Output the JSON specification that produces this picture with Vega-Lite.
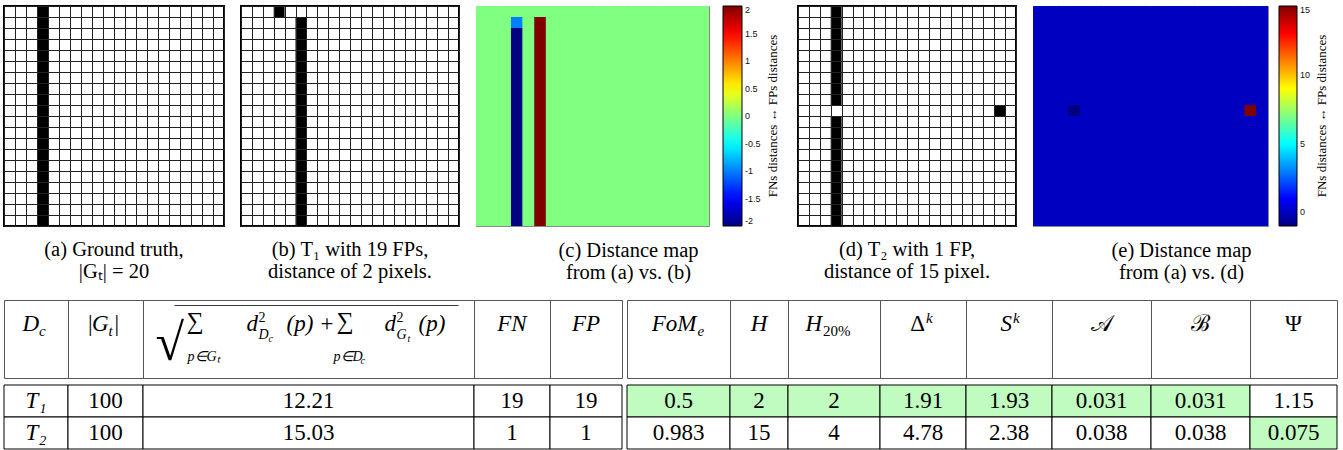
{
"$schema": "https://vega.github.io/schema/vega-lite/v6.json",
"padding": {"left": 3, "top": 5, "right": 0, "bottom": 0},
"background": "white",
"config": {
  "view": {"stroke": null},
  "title": {"orient": "bottom", "font": "Liberation Serif", "fontSize": 20.5, "fontWeight": "normal", "lineHeight": 22, "offset": 14, "anchor": "middle", "color": "black", "frame": "bounds"},
  "text": {"font": "Liberation Serif", "fontSize": 23, "fontStyle": "italic", "baseline": "alphabetic", "dy": -8, "color": "black"}
},
"datasets": {
  "pixA": [{"r":0,"c":3},{"r":1,"c":3},{"r":2,"c":3},{"r":3,"c":3},{"r":4,"c":3},{"r":5,"c":3},{"r":6,"c":3},{"r":7,"c":3},{"r":8,"c":3},{"r":9,"c":3},{"r":10,"c":3},{"r":11,"c":3},{"r":12,"c":3},{"r":13,"c":3},{"r":14,"c":3},{"r":15,"c":3},{"r":16,"c":3},{"r":17,"c":3},{"r":18,"c":3},{"r":19,"c":3}],
  "pixB": [{"r":0,"c":3},{"r":1,"c":5},{"r":2,"c":5},{"r":3,"c":5},{"r":4,"c":5},{"r":5,"c":5},{"r":6,"c":5},{"r":7,"c":5},{"r":8,"c":5},{"r":9,"c":5},{"r":10,"c":5},{"r":11,"c":5},{"r":12,"c":5},{"r":13,"c":5},{"r":14,"c":5},{"r":15,"c":5},{"r":16,"c":5},{"r":17,"c":5},{"r":18,"c":5},{"r":19,"c":5}],
  "pixD": [{"r":0,"c":3},{"r":1,"c":3},{"r":2,"c":3},{"r":3,"c":3},{"r":4,"c":3},{"r":5,"c":3},{"r":6,"c":3},{"r":7,"c":3},{"r":8,"c":3},{"r":9,"c":18},{"r":10,"c":3},{"r":11,"c":3},{"r":12,"c":3},{"r":13,"c":3},{"r":14,"c":3},{"r":15,"c":3},{"r":16,"c":3},{"r":17,"c":3},{"r":18,"c":3},{"r":19,"c":3}],
  "heatC": [
{"r":0,"c":0,"v":0},{"r":0,"c":1,"v":0},{"r":0,"c":2,"v":0},{"r":0,"c":3,"v":0},{"r":0,"c":4,"v":0},{"r":0,"c":5,"v":0},{"r":0,"c":6,"v":0},{"r":0,"c":7,"v":0},{"r":0,"c":8,"v":0},{"r":0,"c":9,"v":0},{"r":0,"c":10,"v":0},{"r":0,"c":11,"v":0},{"r":0,"c":12,"v":0},{"r":0,"c":13,"v":0},{"r":0,"c":14,"v":0},{"r":0,"c":15,"v":0},{"r":0,"c":16,"v":0},{"r":0,"c":17,"v":0},{"r":0,"c":18,"v":0},{"r":0,"c":19,"v":0},
{"r":1,"c":0,"v":0},{"r":1,"c":1,"v":0},{"r":1,"c":2,"v":0},{"r":1,"c":3,"v":-1},{"r":1,"c":4,"v":0},{"r":1,"c":5,"v":2},{"r":1,"c":6,"v":0},{"r":1,"c":7,"v":0},{"r":1,"c":8,"v":0},{"r":1,"c":9,"v":0},{"r":1,"c":10,"v":0},{"r":1,"c":11,"v":0},{"r":1,"c":12,"v":0},{"r":1,"c":13,"v":0},{"r":1,"c":14,"v":0},{"r":1,"c":15,"v":0},{"r":1,"c":16,"v":0},{"r":1,"c":17,"v":0},{"r":1,"c":18,"v":0},{"r":1,"c":19,"v":0},
{"r":2,"c":0,"v":0},{"r":2,"c":1,"v":0},{"r":2,"c":2,"v":0},{"r":2,"c":3,"v":-2},{"r":2,"c":4,"v":0},{"r":2,"c":5,"v":2},{"r":2,"c":6,"v":0},{"r":2,"c":7,"v":0},{"r":2,"c":8,"v":0},{"r":2,"c":9,"v":0},{"r":2,"c":10,"v":0},{"r":2,"c":11,"v":0},{"r":2,"c":12,"v":0},{"r":2,"c":13,"v":0},{"r":2,"c":14,"v":0},{"r":2,"c":15,"v":0},{"r":2,"c":16,"v":0},{"r":2,"c":17,"v":0},{"r":2,"c":18,"v":0},{"r":2,"c":19,"v":0},
{"r":3,"c":0,"v":0},{"r":3,"c":1,"v":0},{"r":3,"c":2,"v":0},{"r":3,"c":3,"v":-2},{"r":3,"c":4,"v":0},{"r":3,"c":5,"v":2},{"r":3,"c":6,"v":0},{"r":3,"c":7,"v":0},{"r":3,"c":8,"v":0},{"r":3,"c":9,"v":0},{"r":3,"c":10,"v":0},{"r":3,"c":11,"v":0},{"r":3,"c":12,"v":0},{"r":3,"c":13,"v":0},{"r":3,"c":14,"v":0},{"r":3,"c":15,"v":0},{"r":3,"c":16,"v":0},{"r":3,"c":17,"v":0},{"r":3,"c":18,"v":0},{"r":3,"c":19,"v":0},
{"r":4,"c":0,"v":0},{"r":4,"c":1,"v":0},{"r":4,"c":2,"v":0},{"r":4,"c":3,"v":-2},{"r":4,"c":4,"v":0},{"r":4,"c":5,"v":2},{"r":4,"c":6,"v":0},{"r":4,"c":7,"v":0},{"r":4,"c":8,"v":0},{"r":4,"c":9,"v":0},{"r":4,"c":10,"v":0},{"r":4,"c":11,"v":0},{"r":4,"c":12,"v":0},{"r":4,"c":13,"v":0},{"r":4,"c":14,"v":0},{"r":4,"c":15,"v":0},{"r":4,"c":16,"v":0},{"r":4,"c":17,"v":0},{"r":4,"c":18,"v":0},{"r":4,"c":19,"v":0},
{"r":5,"c":0,"v":0},{"r":5,"c":1,"v":0},{"r":5,"c":2,"v":0},{"r":5,"c":3,"v":-2},{"r":5,"c":4,"v":0},{"r":5,"c":5,"v":2},{"r":5,"c":6,"v":0},{"r":5,"c":7,"v":0},{"r":5,"c":8,"v":0},{"r":5,"c":9,"v":0},{"r":5,"c":10,"v":0},{"r":5,"c":11,"v":0},{"r":5,"c":12,"v":0},{"r":5,"c":13,"v":0},{"r":5,"c":14,"v":0},{"r":5,"c":15,"v":0},{"r":5,"c":16,"v":0},{"r":5,"c":17,"v":0},{"r":5,"c":18,"v":0},{"r":5,"c":19,"v":0},
{"r":6,"c":0,"v":0},{"r":6,"c":1,"v":0},{"r":6,"c":2,"v":0},{"r":6,"c":3,"v":-2},{"r":6,"c":4,"v":0},{"r":6,"c":5,"v":2},{"r":6,"c":6,"v":0},{"r":6,"c":7,"v":0},{"r":6,"c":8,"v":0},{"r":6,"c":9,"v":0},{"r":6,"c":10,"v":0},{"r":6,"c":11,"v":0},{"r":6,"c":12,"v":0},{"r":6,"c":13,"v":0},{"r":6,"c":14,"v":0},{"r":6,"c":15,"v":0},{"r":6,"c":16,"v":0},{"r":6,"c":17,"v":0},{"r":6,"c":18,"v":0},{"r":6,"c":19,"v":0},
{"r":7,"c":0,"v":0},{"r":7,"c":1,"v":0},{"r":7,"c":2,"v":0},{"r":7,"c":3,"v":-2},{"r":7,"c":4,"v":0},{"r":7,"c":5,"v":2},{"r":7,"c":6,"v":0},{"r":7,"c":7,"v":0},{"r":7,"c":8,"v":0},{"r":7,"c":9,"v":0},{"r":7,"c":10,"v":0},{"r":7,"c":11,"v":0},{"r":7,"c":12,"v":0},{"r":7,"c":13,"v":0},{"r":7,"c":14,"v":0},{"r":7,"c":15,"v":0},{"r":7,"c":16,"v":0},{"r":7,"c":17,"v":0},{"r":7,"c":18,"v":0},{"r":7,"c":19,"v":0},
{"r":8,"c":0,"v":0},{"r":8,"c":1,"v":0},{"r":8,"c":2,"v":0},{"r":8,"c":3,"v":-2},{"r":8,"c":4,"v":0},{"r":8,"c":5,"v":2},{"r":8,"c":6,"v":0},{"r":8,"c":7,"v":0},{"r":8,"c":8,"v":0},{"r":8,"c":9,"v":0},{"r":8,"c":10,"v":0},{"r":8,"c":11,"v":0},{"r":8,"c":12,"v":0},{"r":8,"c":13,"v":0},{"r":8,"c":14,"v":0},{"r":8,"c":15,"v":0},{"r":8,"c":16,"v":0},{"r":8,"c":17,"v":0},{"r":8,"c":18,"v":0},{"r":8,"c":19,"v":0},
{"r":9,"c":0,"v":0},{"r":9,"c":1,"v":0},{"r":9,"c":2,"v":0},{"r":9,"c":3,"v":-2},{"r":9,"c":4,"v":0},{"r":9,"c":5,"v":2},{"r":9,"c":6,"v":0},{"r":9,"c":7,"v":0},{"r":9,"c":8,"v":0},{"r":9,"c":9,"v":0},{"r":9,"c":10,"v":0},{"r":9,"c":11,"v":0},{"r":9,"c":12,"v":0},{"r":9,"c":13,"v":0},{"r":9,"c":14,"v":0},{"r":9,"c":15,"v":0},{"r":9,"c":16,"v":0},{"r":9,"c":17,"v":0},{"r":9,"c":18,"v":0},{"r":9,"c":19,"v":0},
{"r":10,"c":0,"v":0},{"r":10,"c":1,"v":0},{"r":10,"c":2,"v":0},{"r":10,"c":3,"v":-2},{"r":10,"c":4,"v":0},{"r":10,"c":5,"v":2},{"r":10,"c":6,"v":0},{"r":10,"c":7,"v":0},{"r":10,"c":8,"v":0},{"r":10,"c":9,"v":0},{"r":10,"c":10,"v":0},{"r":10,"c":11,"v":0},{"r":10,"c":12,"v":0},{"r":10,"c":13,"v":0},{"r":10,"c":14,"v":0},{"r":10,"c":15,"v":0},{"r":10,"c":16,"v":0},{"r":10,"c":17,"v":0},{"r":10,"c":18,"v":0},{"r":10,"c":19,"v":0},
{"r":11,"c":0,"v":0},{"r":11,"c":1,"v":0},{"r":11,"c":2,"v":0},{"r":11,"c":3,"v":-2},{"r":11,"c":4,"v":0},{"r":11,"c":5,"v":2},{"r":11,"c":6,"v":0},{"r":11,"c":7,"v":0},{"r":11,"c":8,"v":0},{"r":11,"c":9,"v":0},{"r":11,"c":10,"v":0},{"r":11,"c":11,"v":0},{"r":11,"c":12,"v":0},{"r":11,"c":13,"v":0},{"r":11,"c":14,"v":0},{"r":11,"c":15,"v":0},{"r":11,"c":16,"v":0},{"r":11,"c":17,"v":0},{"r":11,"c":18,"v":0},{"r":11,"c":19,"v":0},
{"r":12,"c":0,"v":0},{"r":12,"c":1,"v":0},{"r":12,"c":2,"v":0},{"r":12,"c":3,"v":-2},{"r":12,"c":4,"v":0},{"r":12,"c":5,"v":2},{"r":12,"c":6,"v":0},{"r":12,"c":7,"v":0},{"r":12,"c":8,"v":0},{"r":12,"c":9,"v":0},{"r":12,"c":10,"v":0},{"r":12,"c":11,"v":0},{"r":12,"c":12,"v":0},{"r":12,"c":13,"v":0},{"r":12,"c":14,"v":0},{"r":12,"c":15,"v":0},{"r":12,"c":16,"v":0},{"r":12,"c":17,"v":0},{"r":12,"c":18,"v":0},{"r":12,"c":19,"v":0},
{"r":13,"c":0,"v":0},{"r":13,"c":1,"v":0},{"r":13,"c":2,"v":0},{"r":13,"c":3,"v":-2},{"r":13,"c":4,"v":0},{"r":13,"c":5,"v":2},{"r":13,"c":6,"v":0},{"r":13,"c":7,"v":0},{"r":13,"c":8,"v":0},{"r":13,"c":9,"v":0},{"r":13,"c":10,"v":0},{"r":13,"c":11,"v":0},{"r":13,"c":12,"v":0},{"r":13,"c":13,"v":0},{"r":13,"c":14,"v":0},{"r":13,"c":15,"v":0},{"r":13,"c":16,"v":0},{"r":13,"c":17,"v":0},{"r":13,"c":18,"v":0},{"r":13,"c":19,"v":0},
{"r":14,"c":0,"v":0},{"r":14,"c":1,"v":0},{"r":14,"c":2,"v":0},{"r":14,"c":3,"v":-2},{"r":14,"c":4,"v":0},{"r":14,"c":5,"v":2},{"r":14,"c":6,"v":0},{"r":14,"c":7,"v":0},{"r":14,"c":8,"v":0},{"r":14,"c":9,"v":0},{"r":14,"c":10,"v":0},{"r":14,"c":11,"v":0},{"r":14,"c":12,"v":0},{"r":14,"c":13,"v":0},{"r":14,"c":14,"v":0},{"r":14,"c":15,"v":0},{"r":14,"c":16,"v":0},{"r":14,"c":17,"v":0},{"r":14,"c":18,"v":0},{"r":14,"c":19,"v":0},
{"r":15,"c":0,"v":0},{"r":15,"c":1,"v":0},{"r":15,"c":2,"v":0},{"r":15,"c":3,"v":-2},{"r":15,"c":4,"v":0},{"r":15,"c":5,"v":2},{"r":15,"c":6,"v":0},{"r":15,"c":7,"v":0},{"r":15,"c":8,"v":0},{"r":15,"c":9,"v":0},{"r":15,"c":10,"v":0},{"r":15,"c":11,"v":0},{"r":15,"c":12,"v":0},{"r":15,"c":13,"v":0},{"r":15,"c":14,"v":0},{"r":15,"c":15,"v":0},{"r":15,"c":16,"v":0},{"r":15,"c":17,"v":0},{"r":15,"c":18,"v":0},{"r":15,"c":19,"v":0},
{"r":16,"c":0,"v":0},{"r":16,"c":1,"v":0},{"r":16,"c":2,"v":0},{"r":16,"c":3,"v":-2},{"r":16,"c":4,"v":0},{"r":16,"c":5,"v":2},{"r":16,"c":6,"v":0},{"r":16,"c":7,"v":0},{"r":16,"c":8,"v":0},{"r":16,"c":9,"v":0},{"r":16,"c":10,"v":0},{"r":16,"c":11,"v":0},{"r":16,"c":12,"v":0},{"r":16,"c":13,"v":0},{"r":16,"c":14,"v":0},{"r":16,"c":15,"v":0},{"r":16,"c":16,"v":0},{"r":16,"c":17,"v":0},{"r":16,"c":18,"v":0},{"r":16,"c":19,"v":0},
{"r":17,"c":0,"v":0},{"r":17,"c":1,"v":0},{"r":17,"c":2,"v":0},{"r":17,"c":3,"v":-2},{"r":17,"c":4,"v":0},{"r":17,"c":5,"v":2},{"r":17,"c":6,"v":0},{"r":17,"c":7,"v":0},{"r":17,"c":8,"v":0},{"r":17,"c":9,"v":0},{"r":17,"c":10,"v":0},{"r":17,"c":11,"v":0},{"r":17,"c":12,"v":0},{"r":17,"c":13,"v":0},{"r":17,"c":14,"v":0},{"r":17,"c":15,"v":0},{"r":17,"c":16,"v":0},{"r":17,"c":17,"v":0},{"r":17,"c":18,"v":0},{"r":17,"c":19,"v":0},
{"r":18,"c":0,"v":0},{"r":18,"c":1,"v":0},{"r":18,"c":2,"v":0},{"r":18,"c":3,"v":-2},{"r":18,"c":4,"v":0},{"r":18,"c":5,"v":2},{"r":18,"c":6,"v":0},{"r":18,"c":7,"v":0},{"r":18,"c":8,"v":0},{"r":18,"c":9,"v":0},{"r":18,"c":10,"v":0},{"r":18,"c":11,"v":0},{"r":18,"c":12,"v":0},{"r":18,"c":13,"v":0},{"r":18,"c":14,"v":0},{"r":18,"c":15,"v":0},{"r":18,"c":16,"v":0},{"r":18,"c":17,"v":0},{"r":18,"c":18,"v":0},{"r":18,"c":19,"v":0},
{"r":19,"c":0,"v":0},{"r":19,"c":1,"v":0},{"r":19,"c":2,"v":0},{"r":19,"c":3,"v":-2},{"r":19,"c":4,"v":0},{"r":19,"c":5,"v":2},{"r":19,"c":6,"v":0},{"r":19,"c":7,"v":0},{"r":19,"c":8,"v":0},{"r":19,"c":9,"v":0},{"r":19,"c":10,"v":0},{"r":19,"c":11,"v":0},{"r":19,"c":12,"v":0},{"r":19,"c":13,"v":0},{"r":19,"c":14,"v":0},{"r":19,"c":15,"v":0},{"r":19,"c":16,"v":0},{"r":19,"c":17,"v":0},{"r":19,"c":18,"v":0},{"r":19,"c":19,"v":0}
  ],
  "heatE": [
{"r":0,"c":0,"v":0},{"r":0,"c":1,"v":0},{"r":0,"c":2,"v":0},{"r":0,"c":3,"v":0},{"r":0,"c":4,"v":0},{"r":0,"c":5,"v":0},{"r":0,"c":6,"v":0},{"r":0,"c":7,"v":0},{"r":0,"c":8,"v":0},{"r":0,"c":9,"v":0},{"r":0,"c":10,"v":0},{"r":0,"c":11,"v":0},{"r":0,"c":12,"v":0},{"r":0,"c":13,"v":0},{"r":0,"c":14,"v":0},{"r":0,"c":15,"v":0},{"r":0,"c":16,"v":0},{"r":0,"c":17,"v":0},{"r":0,"c":18,"v":0},{"r":0,"c":19,"v":0},
{"r":1,"c":0,"v":0},{"r":1,"c":1,"v":0},{"r":1,"c":2,"v":0},{"r":1,"c":3,"v":0},{"r":1,"c":4,"v":0},{"r":1,"c":5,"v":0},{"r":1,"c":6,"v":0},{"r":1,"c":7,"v":0},{"r":1,"c":8,"v":0},{"r":1,"c":9,"v":0},{"r":1,"c":10,"v":0},{"r":1,"c":11,"v":0},{"r":1,"c":12,"v":0},{"r":1,"c":13,"v":0},{"r":1,"c":14,"v":0},{"r":1,"c":15,"v":0},{"r":1,"c":16,"v":0},{"r":1,"c":17,"v":0},{"r":1,"c":18,"v":0},{"r":1,"c":19,"v":0},
{"r":2,"c":0,"v":0},{"r":2,"c":1,"v":0},{"r":2,"c":2,"v":0},{"r":2,"c":3,"v":0},{"r":2,"c":4,"v":0},{"r":2,"c":5,"v":0},{"r":2,"c":6,"v":0},{"r":2,"c":7,"v":0},{"r":2,"c":8,"v":0},{"r":2,"c":9,"v":0},{"r":2,"c":10,"v":0},{"r":2,"c":11,"v":0},{"r":2,"c":12,"v":0},{"r":2,"c":13,"v":0},{"r":2,"c":14,"v":0},{"r":2,"c":15,"v":0},{"r":2,"c":16,"v":0},{"r":2,"c":17,"v":0},{"r":2,"c":18,"v":0},{"r":2,"c":19,"v":0},
{"r":3,"c":0,"v":0},{"r":3,"c":1,"v":0},{"r":3,"c":2,"v":0},{"r":3,"c":3,"v":0},{"r":3,"c":4,"v":0},{"r":3,"c":5,"v":0},{"r":3,"c":6,"v":0},{"r":3,"c":7,"v":0},{"r":3,"c":8,"v":0},{"r":3,"c":9,"v":0},{"r":3,"c":10,"v":0},{"r":3,"c":11,"v":0},{"r":3,"c":12,"v":0},{"r":3,"c":13,"v":0},{"r":3,"c":14,"v":0},{"r":3,"c":15,"v":0},{"r":3,"c":16,"v":0},{"r":3,"c":17,"v":0},{"r":3,"c":18,"v":0},{"r":3,"c":19,"v":0},
{"r":4,"c":0,"v":0},{"r":4,"c":1,"v":0},{"r":4,"c":2,"v":0},{"r":4,"c":3,"v":0},{"r":4,"c":4,"v":0},{"r":4,"c":5,"v":0},{"r":4,"c":6,"v":0},{"r":4,"c":7,"v":0},{"r":4,"c":8,"v":0},{"r":4,"c":9,"v":0},{"r":4,"c":10,"v":0},{"r":4,"c":11,"v":0},{"r":4,"c":12,"v":0},{"r":4,"c":13,"v":0},{"r":4,"c":14,"v":0},{"r":4,"c":15,"v":0},{"r":4,"c":16,"v":0},{"r":4,"c":17,"v":0},{"r":4,"c":18,"v":0},{"r":4,"c":19,"v":0},
{"r":5,"c":0,"v":0},{"r":5,"c":1,"v":0},{"r":5,"c":2,"v":0},{"r":5,"c":3,"v":0},{"r":5,"c":4,"v":0},{"r":5,"c":5,"v":0},{"r":5,"c":6,"v":0},{"r":5,"c":7,"v":0},{"r":5,"c":8,"v":0},{"r":5,"c":9,"v":0},{"r":5,"c":10,"v":0},{"r":5,"c":11,"v":0},{"r":5,"c":12,"v":0},{"r":5,"c":13,"v":0},{"r":5,"c":14,"v":0},{"r":5,"c":15,"v":0},{"r":5,"c":16,"v":0},{"r":5,"c":17,"v":0},{"r":5,"c":18,"v":0},{"r":5,"c":19,"v":0},
{"r":6,"c":0,"v":0},{"r":6,"c":1,"v":0},{"r":6,"c":2,"v":0},{"r":6,"c":3,"v":0},{"r":6,"c":4,"v":0},{"r":6,"c":5,"v":0},{"r":6,"c":6,"v":0},{"r":6,"c":7,"v":0},{"r":6,"c":8,"v":0},{"r":6,"c":9,"v":0},{"r":6,"c":10,"v":0},{"r":6,"c":11,"v":0},{"r":6,"c":12,"v":0},{"r":6,"c":13,"v":0},{"r":6,"c":14,"v":0},{"r":6,"c":15,"v":0},{"r":6,"c":16,"v":0},{"r":6,"c":17,"v":0},{"r":6,"c":18,"v":0},{"r":6,"c":19,"v":0},
{"r":7,"c":0,"v":0},{"r":7,"c":1,"v":0},{"r":7,"c":2,"v":0},{"r":7,"c":3,"v":0},{"r":7,"c":4,"v":0},{"r":7,"c":5,"v":0},{"r":7,"c":6,"v":0},{"r":7,"c":7,"v":0},{"r":7,"c":8,"v":0},{"r":7,"c":9,"v":0},{"r":7,"c":10,"v":0},{"r":7,"c":11,"v":0},{"r":7,"c":12,"v":0},{"r":7,"c":13,"v":0},{"r":7,"c":14,"v":0},{"r":7,"c":15,"v":0},{"r":7,"c":16,"v":0},{"r":7,"c":17,"v":0},{"r":7,"c":18,"v":0},{"r":7,"c":19,"v":0},
{"r":8,"c":0,"v":0},{"r":8,"c":1,"v":0},{"r":8,"c":2,"v":0},{"r":8,"c":3,"v":0},{"r":8,"c":4,"v":0},{"r":8,"c":5,"v":0},{"r":8,"c":6,"v":0},{"r":8,"c":7,"v":0},{"r":8,"c":8,"v":0},{"r":8,"c":9,"v":0},{"r":8,"c":10,"v":0},{"r":8,"c":11,"v":0},{"r":8,"c":12,"v":0},{"r":8,"c":13,"v":0},{"r":8,"c":14,"v":0},{"r":8,"c":15,"v":0},{"r":8,"c":16,"v":0},{"r":8,"c":17,"v":0},{"r":8,"c":18,"v":0},{"r":8,"c":19,"v":0},
{"r":9,"c":0,"v":0},{"r":9,"c":1,"v":0},{"r":9,"c":2,"v":0},{"r":9,"c":3,"v":-1},{"r":9,"c":4,"v":0},{"r":9,"c":5,"v":0},{"r":9,"c":6,"v":0},{"r":9,"c":7,"v":0},{"r":9,"c":8,"v":0},{"r":9,"c":9,"v":0},{"r":9,"c":10,"v":0},{"r":9,"c":11,"v":0},{"r":9,"c":12,"v":0},{"r":9,"c":13,"v":0},{"r":9,"c":14,"v":0},{"r":9,"c":15,"v":0},{"r":9,"c":16,"v":0},{"r":9,"c":17,"v":0},{"r":9,"c":18,"v":15},{"r":9,"c":19,"v":0},
{"r":10,"c":0,"v":0},{"r":10,"c":1,"v":0},{"r":10,"c":2,"v":0},{"r":10,"c":3,"v":0},{"r":10,"c":4,"v":0},{"r":10,"c":5,"v":0},{"r":10,"c":6,"v":0},{"r":10,"c":7,"v":0},{"r":10,"c":8,"v":0},{"r":10,"c":9,"v":0},{"r":10,"c":10,"v":0},{"r":10,"c":11,"v":0},{"r":10,"c":12,"v":0},{"r":10,"c":13,"v":0},{"r":10,"c":14,"v":0},{"r":10,"c":15,"v":0},{"r":10,"c":16,"v":0},{"r":10,"c":17,"v":0},{"r":10,"c":18,"v":0},{"r":10,"c":19,"v":0},
{"r":11,"c":0,"v":0},{"r":11,"c":1,"v":0},{"r":11,"c":2,"v":0},{"r":11,"c":3,"v":0},{"r":11,"c":4,"v":0},{"r":11,"c":5,"v":0},{"r":11,"c":6,"v":0},{"r":11,"c":7,"v":0},{"r":11,"c":8,"v":0},{"r":11,"c":9,"v":0},{"r":11,"c":10,"v":0},{"r":11,"c":11,"v":0},{"r":11,"c":12,"v":0},{"r":11,"c":13,"v":0},{"r":11,"c":14,"v":0},{"r":11,"c":15,"v":0},{"r":11,"c":16,"v":0},{"r":11,"c":17,"v":0},{"r":11,"c":18,"v":0},{"r":11,"c":19,"v":0},
{"r":12,"c":0,"v":0},{"r":12,"c":1,"v":0},{"r":12,"c":2,"v":0},{"r":12,"c":3,"v":0},{"r":12,"c":4,"v":0},{"r":12,"c":5,"v":0},{"r":12,"c":6,"v":0},{"r":12,"c":7,"v":0},{"r":12,"c":8,"v":0},{"r":12,"c":9,"v":0},{"r":12,"c":10,"v":0},{"r":12,"c":11,"v":0},{"r":12,"c":12,"v":0},{"r":12,"c":13,"v":0},{"r":12,"c":14,"v":0},{"r":12,"c":15,"v":0},{"r":12,"c":16,"v":0},{"r":12,"c":17,"v":0},{"r":12,"c":18,"v":0},{"r":12,"c":19,"v":0},
{"r":13,"c":0,"v":0},{"r":13,"c":1,"v":0},{"r":13,"c":2,"v":0},{"r":13,"c":3,"v":0},{"r":13,"c":4,"v":0},{"r":13,"c":5,"v":0},{"r":13,"c":6,"v":0},{"r":13,"c":7,"v":0},{"r":13,"c":8,"v":0},{"r":13,"c":9,"v":0},{"r":13,"c":10,"v":0},{"r":13,"c":11,"v":0},{"r":13,"c":12,"v":0},{"r":13,"c":13,"v":0},{"r":13,"c":14,"v":0},{"r":13,"c":15,"v":0},{"r":13,"c":16,"v":0},{"r":13,"c":17,"v":0},{"r":13,"c":18,"v":0},{"r":13,"c":19,"v":0},
{"r":14,"c":0,"v":0},{"r":14,"c":1,"v":0},{"r":14,"c":2,"v":0},{"r":14,"c":3,"v":0},{"r":14,"c":4,"v":0},{"r":14,"c":5,"v":0},{"r":14,"c":6,"v":0},{"r":14,"c":7,"v":0},{"r":14,"c":8,"v":0},{"r":14,"c":9,"v":0},{"r":14,"c":10,"v":0},{"r":14,"c":11,"v":0},{"r":14,"c":12,"v":0},{"r":14,"c":13,"v":0},{"r":14,"c":14,"v":0},{"r":14,"c":15,"v":0},{"r":14,"c":16,"v":0},{"r":14,"c":17,"v":0},{"r":14,"c":18,"v":0},{"r":14,"c":19,"v":0},
{"r":15,"c":0,"v":0},{"r":15,"c":1,"v":0},{"r":15,"c":2,"v":0},{"r":15,"c":3,"v":0},{"r":15,"c":4,"v":0},{"r":15,"c":5,"v":0},{"r":15,"c":6,"v":0},{"r":15,"c":7,"v":0},{"r":15,"c":8,"v":0},{"r":15,"c":9,"v":0},{"r":15,"c":10,"v":0},{"r":15,"c":11,"v":0},{"r":15,"c":12,"v":0},{"r":15,"c":13,"v":0},{"r":15,"c":14,"v":0},{"r":15,"c":15,"v":0},{"r":15,"c":16,"v":0},{"r":15,"c":17,"v":0},{"r":15,"c":18,"v":0},{"r":15,"c":19,"v":0},
{"r":16,"c":0,"v":0},{"r":16,"c":1,"v":0},{"r":16,"c":2,"v":0},{"r":16,"c":3,"v":0},{"r":16,"c":4,"v":0},{"r":16,"c":5,"v":0},{"r":16,"c":6,"v":0},{"r":16,"c":7,"v":0},{"r":16,"c":8,"v":0},{"r":16,"c":9,"v":0},{"r":16,"c":10,"v":0},{"r":16,"c":11,"v":0},{"r":16,"c":12,"v":0},{"r":16,"c":13,"v":0},{"r":16,"c":14,"v":0},{"r":16,"c":15,"v":0},{"r":16,"c":16,"v":0},{"r":16,"c":17,"v":0},{"r":16,"c":18,"v":0},{"r":16,"c":19,"v":0},
{"r":17,"c":0,"v":0},{"r":17,"c":1,"v":0},{"r":17,"c":2,"v":0},{"r":17,"c":3,"v":0},{"r":17,"c":4,"v":0},{"r":17,"c":5,"v":0},{"r":17,"c":6,"v":0},{"r":17,"c":7,"v":0},{"r":17,"c":8,"v":0},{"r":17,"c":9,"v":0},{"r":17,"c":10,"v":0},{"r":17,"c":11,"v":0},{"r":17,"c":12,"v":0},{"r":17,"c":13,"v":0},{"r":17,"c":14,"v":0},{"r":17,"c":15,"v":0},{"r":17,"c":16,"v":0},{"r":17,"c":17,"v":0},{"r":17,"c":18,"v":0},{"r":17,"c":19,"v":0},
{"r":18,"c":0,"v":0},{"r":18,"c":1,"v":0},{"r":18,"c":2,"v":0},{"r":18,"c":3,"v":0},{"r":18,"c":4,"v":0},{"r":18,"c":5,"v":0},{"r":18,"c":6,"v":0},{"r":18,"c":7,"v":0},{"r":18,"c":8,"v":0},{"r":18,"c":9,"v":0},{"r":18,"c":10,"v":0},{"r":18,"c":11,"v":0},{"r":18,"c":12,"v":0},{"r":18,"c":13,"v":0},{"r":18,"c":14,"v":0},{"r":18,"c":15,"v":0},{"r":18,"c":16,"v":0},{"r":18,"c":17,"v":0},{"r":18,"c":18,"v":0},{"r":18,"c":19,"v":0},
{"r":19,"c":0,"v":0},{"r":19,"c":1,"v":0},{"r":19,"c":2,"v":0},{"r":19,"c":3,"v":0},{"r":19,"c":4,"v":0},{"r":19,"c":5,"v":0},{"r":19,"c":6,"v":0},{"r":19,"c":7,"v":0},{"r":19,"c":8,"v":0},{"r":19,"c":9,"v":0},{"r":19,"c":10,"v":0},{"r":19,"c":11,"v":0},{"r":19,"c":12,"v":0},{"r":19,"c":13,"v":0},{"r":19,"c":14,"v":0},{"r":19,"c":15,"v":0},{"r":19,"c":16,"v":0},{"r":19,"c":17,"v":0},{"r":19,"c":18,"v":0},{"r":19,"c":19,"v":0}
  ],
  "tbl": [
    {"row":"T1","metric":"Dc","value":"T₁","best":"no"},
    {"row":"T1","metric":"Gt","value":"100","best":"no"},
    {"row":"T1","metric":"dist","value":"12.21","best":"no"},
    {"row":"T1","metric":"FN","value":"19","best":"no"},
    {"row":"T1","metric":"FP","value":"19","best":"no"},
    {"row":"T1","metric":"FoMe","value":"0.5","best":"yes"},
    {"row":"T1","metric":"H","value":"2","best":"yes"},
    {"row":"T1","metric":"H20","value":"2","best":"yes"},
    {"row":"T1","metric":"Dk","value":"1.91","best":"yes"},
    {"row":"T1","metric":"Sk","value":"1.93","best":"yes"},
    {"row":"T1","metric":"A","value":"0.031","best":"yes"},
    {"row":"T1","metric":"B","value":"0.031","best":"yes"},
    {"row":"T1","metric":"Psi","value":"1.15","best":"no"},
    {"row":"T2","metric":"Dc","value":"T₂","best":"no"},
    {"row":"T2","metric":"Gt","value":"100","best":"no"},
    {"row":"T2","metric":"dist","value":"15.03","best":"no"},
    {"row":"T2","metric":"FN","value":"1","best":"no"},
    {"row":"T2","metric":"FP","value":"1","best":"no"},
    {"row":"T2","metric":"FoMe","value":"0.983","best":"no"},
    {"row":"T2","metric":"H","value":"15","best":"no"},
    {"row":"T2","metric":"H20","value":"4","best":"no"},
    {"row":"T2","metric":"Dk","value":"4.78","best":"no"},
    {"row":"T2","metric":"Sk","value":"2.38","best":"no"},
    {"row":"T2","metric":"A","value":"0.038","best":"no"},
    {"row":"T2","metric":"B","value":"0.038","best":"no"},
    {"row":"T2","metric":"Psi","value":"0.075","best":"yes"}
  ]
},
"spacing": 8,
"vconcat": [
  {
    "spacing": 15,
    "resolve": {"scale": {"x": "independent", "y": "independent", "color": "independent"}, "legend": {"color": "independent"}},
    "hconcat": [
      {
        "width": 220, "height": 220,
        "data": {"name": "pixA"},
        "view": {"stroke": "black", "strokeWidth": 2},
        "title": {"text": ["(a) Ground truth,", "|Gₜ| = 20"], "font": "Liberation Serif"},
        "mark": {"type": "rect", "color": "black"},
        "encoding": {
          "x": {"field": "c", "type": "ordinal", "scale": {"type": "band", "domain": [0,1,2,3,4,5,6,7,8,9,10,11,12,13,14,15,16,17,18,19], "paddingInner": 0, "paddingOuter": 0}, "axis": {"grid": true, "tickBand": "extent", "labels": false, "ticks": false, "domain": false, "title": null, "gridColor": "#222", "gridWidth": 1, "gridOpacity": 1}},
          "y": {"field": "r", "type": "ordinal", "scale": {"type": "band", "domain": [0,1,2,3,4,5,6,7,8,9,10,11,12,13,14,15,16,17,18,19], "paddingInner": 0, "paddingOuter": 0}, "axis": {"grid": true, "tickBand": "extent", "labels": false, "ticks": false, "domain": false, "title": null, "gridColor": "#222", "gridWidth": 1, "gridOpacity": 1}}
        }
      },
      {
        "width": 218, "height": 220,
        "data": {"name": "pixB"},
        "view": {"stroke": "black", "strokeWidth": 2},
        "title": {"text": ["(b) T₁ with 19 FPs,", "distance of 2 pixels."], "font": "Liberation Serif"},
        "mark": {"type": "rect", "color": "black"},
        "encoding": {
          "x": {"field": "c", "type": "ordinal", "scale": {"type": "band", "domain": [0,1,2,3,4,5,6,7,8,9,10,11,12,13,14,15,16,17,18,19], "paddingInner": 0, "paddingOuter": 0}, "axis": {"grid": true, "tickBand": "extent", "labels": false, "ticks": false, "domain": false, "title": null, "gridColor": "#222", "gridWidth": 1, "gridOpacity": 1}},
          "y": {"field": "r", "type": "ordinal", "scale": {"type": "band", "domain": [0,1,2,3,4,5,6,7,8,9,10,11,12,13,14,15,16,17,18,19], "paddingInner": 0, "paddingOuter": 0}, "axis": {"grid": true, "tickBand": "extent", "labels": false, "ticks": false, "domain": false, "title": null, "gridColor": "#222", "gridWidth": 1, "gridOpacity": 1}}
        }
      },
      {
        "width": 233, "height": 220,
        "data": {"name": "heatC"},
        "view": {"stroke": "#8a8a8a", "strokeWidth": 1, "fill": "#80ff80"},
        "title": {"text": ["(c) Distance map", "from (a) vs. (b)"], "font": "Liberation Serif"},
        "mark": {"type": "rect"},
        "encoding": {
          "x": {"field": "c", "type": "ordinal", "scale": {"type": "band", "domain": [0,1,2,3,4,5,6,7,8,9,10,11,12,13,14,15,16,17,18,19], "paddingInner": 0, "paddingOuter": 0}, "axis": null},
          "y": {"field": "r", "type": "ordinal", "scale": {"type": "band", "domain": [0,1,2,3,4,5,6,7,8,9,10,11,12,13,14,15,16,17,18,19], "paddingInner": 0, "paddingOuter": 0}, "axis": null},
          "color": {"field": "v", "type": "quantitative",
            "scale": {"domain": [-2,-1.5,-0.5,0.5,1.5,2], "range": ["#000080","#0000ff","#00ffff","#ffff00","#ff0000","#800000"], "interpolate": "rgb"},
            "legend": {"type": "gradient", "direction": "vertical", "orient": "right", "offset": 14, "padding": 0,
              "gradientLength": 220, "gradientThickness": 19, "gradientStrokeColor": "black", "gradientStrokeWidth": 1,
              "values": [-2,-1.5,-1,-0.5,0,0.5,1,1.5,2], "labelExpr": "'' + datum.value",
              "labelFont": "Liberation Sans", "labelFontSize": 9, "labelColor": "#111", "labelOffset": 3, "labelOverlap": false,
              "title": "FNs distances  ↔  FPs distances", "titleOrient": "right", "titleAngle": 270,
              "titleFont": "Liberation Serif", "titleFontSize": 13, "titleFontWeight": "normal", "titleAnchor": "middle", "titlePadding": 6, "titleColor": "black",
              "encode": {"title": {"update": {"angle": {"value": 270}, "baseline": {"value": "top"}}}}}}
        }
      },
      {
        "width": 218, "height": 220,
        "data": {"name": "pixD"},
        "view": {"stroke": "black", "strokeWidth": 2},
        "title": {"text": ["(d) T₂ with 1 FP,", "distance of 15 pixel."], "font": "Liberation Serif"},
        "mark": {"type": "rect", "color": "black"},
        "encoding": {
          "x": {"field": "c", "type": "ordinal", "scale": {"type": "band", "domain": [0,1,2,3,4,5,6,7,8,9,10,11,12,13,14,15,16,17,18,19], "paddingInner": 0, "paddingOuter": 0}, "axis": {"grid": true, "tickBand": "extent", "labels": false, "ticks": false, "domain": false, "title": null, "gridColor": "#222", "gridWidth": 1, "gridOpacity": 1}},
          "y": {"field": "r", "type": "ordinal", "scale": {"type": "band", "domain": [0,1,2,3,4,5,6,7,8,9,10,11,12,13,14,15,16,17,18,19], "paddingInner": 0, "paddingOuter": 0}, "axis": {"grid": true, "tickBand": "extent", "labels": false, "ticks": false, "domain": false, "title": null, "gridColor": "#222", "gridWidth": 1, "gridOpacity": 1}}
        }
      },
      {
        "width": 235, "height": 220,
        "data": {"name": "heatE"},
        "view": {"stroke": "#8a8a8a", "strokeWidth": 1, "fill": "#0000bf"},
        "title": {"text": ["(e) Distance map", "from (a) vs. (d)"], "font": "Liberation Serif"},
        "mark": {"type": "rect"},
        "encoding": {
          "x": {"field": "c", "type": "ordinal", "scale": {"type": "band", "domain": [0,1,2,3,4,5,6,7,8,9,10,11,12,13,14,15,16,17,18,19], "paddingInner": 0, "paddingOuter": 0}, "axis": null},
          "y": {"field": "r", "type": "ordinal", "scale": {"type": "band", "domain": [0,1,2,3,4,5,6,7,8,9,10,11,12,13,14,15,16,17,18,19], "paddingInner": 0, "paddingOuter": 0}, "axis": null},
          "color": {"field": "v", "type": "quantitative",
            "scale": {"domain": [-1,1,5,9,13,15], "range": ["#000080","#0000ff","#00ffff","#ffff00","#ff0000","#800000"], "interpolate": "rgb"},
            "legend": {"type": "gradient", "direction": "vertical", "orient": "right", "offset": 11, "padding": 0,
              "gradientLength": 220, "gradientThickness": 18, "gradientStrokeColor": "black", "gradientStrokeWidth": 1,
              "values": [0,5,10,15], "labelExpr": "'' + datum.value",
              "labelFont": "Liberation Sans", "labelFontSize": 9, "labelColor": "#111", "labelOffset": 3, "labelOverlap": false,
              "title": "FNs distances  ↔  FPs distances", "titleOrient": "right", "titleAngle": 270,
              "titleFont": "Liberation Serif", "titleFontSize": 13, "titleFontWeight": "normal", "titleAnchor": "middle", "titlePadding": 6, "titleColor": "black",
              "encode": {"title": {"update": {"angle": {"value": 270}, "baseline": {"value": "top"}}}}}}
        }
      }
    ]
  },
  {
    "spacing": 5,
    "vconcat": [
      {
        "spacing": 3,
        "hconcat": [
          {
            "spacing": 0,
            "bounds": "flush",
            "hconcat": [
              {"width": 64, "height": 78, "data": {"values": [{}]}, "view": {"stroke": "#555"},
               "layer": [
                 {"mark": {"type": "text", "align": "right", "dx": 3}, "encoding": {"text": {"value": "D"}}},
                 {"mark": {"type": "text", "align": "left", "dx": 3, "dy": -3, "fontSize": 15}, "encoding": {"text": {"value": "c"}}}
               ]},
              {"width": 75, "height": 78, "data": {"values": [{}]}, "view": {"stroke": "#555"},
               "layer": [
                 {"mark": {"type": "text", "align": "right", "dx": -13, "fontStyle": "normal"}, "encoding": {"text": {"value": "|"}}},
                 {"mark": {"type": "text", "align": "right", "dx": 3}, "encoding": {"text": {"value": "G"}}},
                 {"mark": {"type": "text", "align": "left", "dx": 3, "dy": -3, "fontSize": 15}, "encoding": {"text": {"value": "t"}}},
                 {"mark": {"type": "text", "align": "left", "dx": 9, "fontStyle": "normal"}, "encoding": {"text": {"value": "|"}}}
               ]},
              {"width": 331, "height": 78, "data": {"values": [{}]}, "view": {"stroke": "#555"},
               "layer": [
                 {"mark": {"type": "text", "align": "left", "dx": -153, "dy": 21, "fontSize": 52, "fontStyle": "normal"}, "encoding": {"text": {"value": "√"}}},
                 {"mark": {"type": "text", "align": "left", "dx": -134, "dy": -35, "fontSize": 14.2, "fontStyle": "normal"}, "encoding": {"text": {"value": "________________________________________"}}},
                 {"mark": {"type": "text", "align": "left", "dx": -122, "dy": -10, "fontSize": 24, "fontStyle": "normal"}, "encoding": {"text": {"value": "∑"}}},
                 {"mark": {"type": "text", "align": "left", "dx": -121, "dy": 22, "fontSize": 14}, "encoding": {"text": {"value": "p∈Gₜ"}}},
                 {"mark": {"type": "text", "align": "left", "dx": -62}, "encoding": {"text": {"value": "d"}}},
                 {"mark": {"type": "text", "align": "left", "dx": -50, "dy": -17, "fontSize": 14, "fontStyle": "normal"}, "encoding": {"text": {"value": "2"}}},
                 {"mark": {"type": "text", "align": "left", "dx": -50, "dy": 0, "fontSize": 14}, "encoding": {"text": {"value": "D"}}},
                 {"mark": {"type": "text", "align": "left", "dx": -40, "dy": 3, "fontSize": 10}, "encoding": {"text": {"value": "c"}}},
                 {"mark": {"type": "text", "align": "left", "dx": -22}, "encoding": {"text": {"value": "(p) +"}}},
                 {"mark": {"type": "text", "align": "left", "dx": 28, "dy": -10, "fontSize": 24, "fontStyle": "normal"}, "encoding": {"text": {"value": "∑"}}},
                 {"mark": {"type": "text", "align": "left", "dx": 25, "dy": 22, "fontSize": 14}, "encoding": {"text": {"value": "p∈D"}}},
                 {"mark": {"type": "text", "align": "left", "dx": 52, "dy": 25, "fontSize": 10}, "encoding": {"text": {"value": "c"}}},
                 {"mark": {"type": "text", "align": "left", "dx": 76}, "encoding": {"text": {"value": "d"}}},
                 {"mark": {"type": "text", "align": "left", "dx": 88, "dy": -17, "fontSize": 14, "fontStyle": "normal"}, "encoding": {"text": {"value": "2"}}},
                 {"mark": {"type": "text", "align": "left", "dx": 88, "dy": 0, "fontSize": 14}, "encoding": {"text": {"value": "G"}}},
                 {"mark": {"type": "text", "align": "left", "dx": 99, "dy": 3, "fontSize": 10}, "encoding": {"text": {"value": "t"}}},
                 {"mark": {"type": "text", "align": "left", "dx": 110}, "encoding": {"text": {"value": "(p)"}}}
               ]},
              {"width": 76, "height": 78, "data": {"values": [{}]}, "view": {"stroke": "#555"},
               "mark": {"type": "text"}, "encoding": {"text": {"value": "FN"}}},
              {"width": 72, "height": 78, "data": {"values": [{}]}, "view": {"stroke": "#555"},
               "mark": {"type": "text"}, "encoding": {"text": {"value": "FP"}}}
            ]
          },
          {
            "spacing": 0,
            "bounds": "flush",
            "hconcat": [
              {"width": 103, "height": 78, "data": {"values": [{}]}, "view": {"stroke": "#555"},
               "layer": [
                 {"mark": {"type": "text", "align": "right", "dx": 18}, "encoding": {"text": {"value": "FoM"}}},
                 {"mark": {"type": "text", "align": "left", "dx": 19, "dy": -3, "fontSize": 15}, "encoding": {"text": {"value": "e"}}}
               ]},
              {"width": 58, "height": 78, "data": {"values": [{}]}, "view": {"stroke": "#555"},
               "mark": {"type": "text"}, "encoding": {"text": {"value": "H"}}},
              {"width": 92, "height": 78, "data": {"values": [{}]}, "view": {"stroke": "#555"},
               "layer": [
                 {"mark": {"type": "text", "align": "right", "dx": -12}, "encoding": {"text": {"value": "H"}}},
                 {"mark": {"type": "text", "align": "left", "dx": -11, "dy": -3, "fontSize": 15, "fontStyle": "normal"}, "encoding": {"text": {"value": "20%"}}}
               ]},
              {"width": 86, "height": 78, "data": {"values": [{}]}, "view": {"stroke": "#555"},
               "layer": [
                 {"mark": {"type": "text", "align": "right", "dx": 2, "fontStyle": "normal"}, "encoding": {"text": {"value": "Δ"}}},
                 {"mark": {"type": "text", "align": "left", "dx": 3, "dy": -16, "fontSize": 15}, "encoding": {"text": {"value": "k"}}}
               ]},
              {"width": 86, "height": 78, "data": {"values": [{}]}, "view": {"stroke": "#555"},
               "layer": [
                 {"mark": {"type": "text", "align": "right", "dx": 3}, "encoding": {"text": {"value": "S"}}},
                 {"mark": {"type": "text", "align": "left", "dx": 4, "dy": -16, "fontSize": 15}, "encoding": {"text": {"value": "k"}}}
               ]},
              {"width": 99, "height": 78, "data": {"values": [{}]}, "view": {"stroke": "#555"},
               "mark": {"type": "text", "fontStyle": "normal"}, "encoding": {"text": {"value": "𝒜"}}},
              {"width": 99, "height": 78, "data": {"values": [{}]}, "view": {"stroke": "#555"},
               "mark": {"type": "text", "fontStyle": "normal"}, "encoding": {"text": {"value": "ℬ"}}},
              {"width": 87, "height": 78, "data": {"values": [{}]}, "view": {"stroke": "#555"},
               "mark": {"type": "text", "fontStyle": "normal"}, "encoding": {"text": {"value": "Ψ"}}}
            ]
          }
        ]
      },
      {
        "spacing": 3,
        "hconcat": [
          {
            "spacing": 0,
            "bounds": "flush",
            "hconcat": [
              {"width": 64, "height": 64, "data": {"name": "tbl"}, "transform": [{"filter": "datum.metric === 'Dc'"}],
               "encoding": {"y": {"field": "row", "type": "nominal", "scale": {"type": "band", "domain": ["T1","T2"], "paddingInner": 0, "paddingOuter": 0}, "axis": null}},
               "layer": [
                 {"mark": {"type": "rect", "stroke": "black", "strokeWidth": 1}, "encoding": {"fill": {"field": "best", "type": "nominal", "scale": {"domain": ["yes","no"], "range": ["#c0fbc0","#ffffff"]}, "legend": null}}},
                 {"mark": {"type": "text", "baseline": "middle", "dy": 0}, "encoding": {"text": {"field": "value"}}}
               ]},
              {"width": 75, "height": 64, "data": {"name": "tbl"}, "transform": [{"filter": "datum.metric === 'Gt'"}],
               "encoding": {"y": {"field": "row", "type": "nominal", "scale": {"type": "band", "domain": ["T1","T2"], "paddingInner": 0, "paddingOuter": 0}, "axis": null}},
               "layer": [
                 {"mark": {"type": "rect", "stroke": "black", "strokeWidth": 1}, "encoding": {"fill": {"field": "best", "type": "nominal", "scale": {"domain": ["yes","no"], "range": ["#c0fbc0","#ffffff"]}, "legend": null}}},
                 {"mark": {"type": "text", "baseline": "middle", "dy": 0, "fontStyle": "normal"}, "encoding": {"text": {"field": "value"}}}
               ]},
              {"width": 331, "height": 64, "data": {"name": "tbl"}, "transform": [{"filter": "datum.metric === 'dist'"}],
               "encoding": {"y": {"field": "row", "type": "nominal", "scale": {"type": "band", "domain": ["T1","T2"], "paddingInner": 0, "paddingOuter": 0}, "axis": null}},
               "layer": [
                 {"mark": {"type": "rect", "stroke": "black", "strokeWidth": 1}, "encoding": {"fill": {"field": "best", "type": "nominal", "scale": {"domain": ["yes","no"], "range": ["#c0fbc0","#ffffff"]}, "legend": null}}},
                 {"mark": {"type": "text", "baseline": "middle", "dy": 0, "fontStyle": "normal"}, "encoding": {"text": {"field": "value"}}}
               ]},
              {"width": 76, "height": 64, "data": {"name": "tbl"}, "transform": [{"filter": "datum.metric === 'FN'"}],
               "encoding": {"y": {"field": "row", "type": "nominal", "scale": {"type": "band", "domain": ["T1","T2"], "paddingInner": 0, "paddingOuter": 0}, "axis": null}},
               "layer": [
                 {"mark": {"type": "rect", "stroke": "black", "strokeWidth": 1}, "encoding": {"fill": {"field": "best", "type": "nominal", "scale": {"domain": ["yes","no"], "range": ["#c0fbc0","#ffffff"]}, "legend": null}}},
                 {"mark": {"type": "text", "baseline": "middle", "dy": 0, "fontStyle": "normal"}, "encoding": {"text": {"field": "value"}}}
               ]},
              {"width": 72, "height": 64, "data": {"name": "tbl"}, "transform": [{"filter": "datum.metric === 'FP'"}],
               "encoding": {"y": {"field": "row", "type": "nominal", "scale": {"type": "band", "domain": ["T1","T2"], "paddingInner": 0, "paddingOuter": 0}, "axis": null}},
               "layer": [
                 {"mark": {"type": "rect", "stroke": "black", "strokeWidth": 1}, "encoding": {"fill": {"field": "best", "type": "nominal", "scale": {"domain": ["yes","no"], "range": ["#c0fbc0","#ffffff"]}, "legend": null}}},
                 {"mark": {"type": "text", "baseline": "middle", "dy": 0, "fontStyle": "normal"}, "encoding": {"text": {"field": "value"}}}
               ]}
            ]
          },
          {
            "spacing": 0,
            "bounds": "flush",
            "hconcat": [
              {"width": 103, "height": 64, "data": {"name": "tbl"}, "transform": [{"filter": "datum.metric === 'FoMe'"}],
               "encoding": {"y": {"field": "row", "type": "nominal", "scale": {"type": "band", "domain": ["T1","T2"], "paddingInner": 0, "paddingOuter": 0}, "axis": null}},
               "layer": [
                 {"mark": {"type": "rect", "stroke": "black", "strokeWidth": 1}, "encoding": {"fill": {"field": "best", "type": "nominal", "scale": {"domain": ["yes","no"], "range": ["#c0fbc0","#ffffff"]}, "legend": null}}},
                 {"mark": {"type": "text", "baseline": "middle", "dy": 0, "fontStyle": "normal"}, "encoding": {"text": {"field": "value"}}}
               ]},
              {"width": 58, "height": 64, "data": {"name": "tbl"}, "transform": [{"filter": "datum.metric === 'H'"}],
               "encoding": {"y": {"field": "row", "type": "nominal", "scale": {"type": "band", "domain": ["T1","T2"], "paddingInner": 0, "paddingOuter": 0}, "axis": null}},
               "layer": [
                 {"mark": {"type": "rect", "stroke": "black", "strokeWidth": 1}, "encoding": {"fill": {"field": "best", "type": "nominal", "scale": {"domain": ["yes","no"], "range": ["#c0fbc0","#ffffff"]}, "legend": null}}},
                 {"mark": {"type": "text", "baseline": "middle", "dy": 0, "fontStyle": "normal"}, "encoding": {"text": {"field": "value"}}}
               ]},
              {"width": 92, "height": 64, "data": {"name": "tbl"}, "transform": [{"filter": "datum.metric === 'H20'"}],
               "encoding": {"y": {"field": "row", "type": "nominal", "scale": {"type": "band", "domain": ["T1","T2"], "paddingInner": 0, "paddingOuter": 0}, "axis": null}},
               "layer": [
                 {"mark": {"type": "rect", "stroke": "black", "strokeWidth": 1}, "encoding": {"fill": {"field": "best", "type": "nominal", "scale": {"domain": ["yes","no"], "range": ["#c0fbc0","#ffffff"]}, "legend": null}}},
                 {"mark": {"type": "text", "baseline": "middle", "dy": 0, "fontStyle": "normal"}, "encoding": {"text": {"field": "value"}}}
               ]},
              {"width": 86, "height": 64, "data": {"name": "tbl"}, "transform": [{"filter": "datum.metric === 'Dk'"}],
               "encoding": {"y": {"field": "row", "type": "nominal", "scale": {"type": "band", "domain": ["T1","T2"], "paddingInner": 0, "paddingOuter": 0}, "axis": null}},
               "layer": [
                 {"mark": {"type": "rect", "stroke": "black", "strokeWidth": 1}, "encoding": {"fill": {"field": "best", "type": "nominal", "scale": {"domain": ["yes","no"], "range": ["#c0fbc0","#ffffff"]}, "legend": null}}},
                 {"mark": {"type": "text", "baseline": "middle", "dy": 0, "fontStyle": "normal"}, "encoding": {"text": {"field": "value"}}}
               ]},
              {"width": 86, "height": 64, "data": {"name": "tbl"}, "transform": [{"filter": "datum.metric === 'Sk'"}],
               "encoding": {"y": {"field": "row", "type": "nominal", "scale": {"type": "band", "domain": ["T1","T2"], "paddingInner": 0, "paddingOuter": 0}, "axis": null}},
               "layer": [
                 {"mark": {"type": "rect", "stroke": "black", "strokeWidth": 1}, "encoding": {"fill": {"field": "best", "type": "nominal", "scale": {"domain": ["yes","no"], "range": ["#c0fbc0","#ffffff"]}, "legend": null}}},
                 {"mark": {"type": "text", "baseline": "middle", "dy": 0, "fontStyle": "normal"}, "encoding": {"text": {"field": "value"}}}
               ]},
              {"width": 99, "height": 64, "data": {"name": "tbl"}, "transform": [{"filter": "datum.metric === 'A'"}],
               "encoding": {"y": {"field": "row", "type": "nominal", "scale": {"type": "band", "domain": ["T1","T2"], "paddingInner": 0, "paddingOuter": 0}, "axis": null}},
               "layer": [
                 {"mark": {"type": "rect", "stroke": "black", "strokeWidth": 1}, "encoding": {"fill": {"field": "best", "type": "nominal", "scale": {"domain": ["yes","no"], "range": ["#c0fbc0","#ffffff"]}, "legend": null}}},
                 {"mark": {"type": "text", "baseline": "middle", "dy": 0, "fontStyle": "normal"}, "encoding": {"text": {"field": "value"}}}
               ]},
              {"width": 99, "height": 64, "data": {"name": "tbl"}, "transform": [{"filter": "datum.metric === 'B'"}],
               "encoding": {"y": {"field": "row", "type": "nominal", "scale": {"type": "band", "domain": ["T1","T2"], "paddingInner": 0, "paddingOuter": 0}, "axis": null}},
               "layer": [
                 {"mark": {"type": "rect", "stroke": "black", "strokeWidth": 1}, "encoding": {"fill": {"field": "best", "type": "nominal", "scale": {"domain": ["yes","no"], "range": ["#c0fbc0","#ffffff"]}, "legend": null}}},
                 {"mark": {"type": "text", "baseline": "middle", "dy": 0, "fontStyle": "normal"}, "encoding": {"text": {"field": "value"}}}
               ]},
              {"width": 87, "height": 64, "data": {"name": "tbl"}, "transform": [{"filter": "datum.metric === 'Psi'"}],
               "encoding": {"y": {"field": "row", "type": "nominal", "scale": {"type": "band", "domain": ["T1","T2"], "paddingInner": 0, "paddingOuter": 0}, "axis": null}},
               "layer": [
                 {"mark": {"type": "rect", "stroke": "black", "strokeWidth": 1}, "encoding": {"fill": {"field": "best", "type": "nominal", "scale": {"domain": ["yes","no"], "range": ["#c0fbc0","#ffffff"]}, "legend": null}}},
                 {"mark": {"type": "text", "baseline": "middle", "dy": 0, "fontStyle": "normal"}, "encoding": {"text": {"field": "value"}}}
               ]}
            ]
          }
        ]
      }
    ]
  }
]
}
